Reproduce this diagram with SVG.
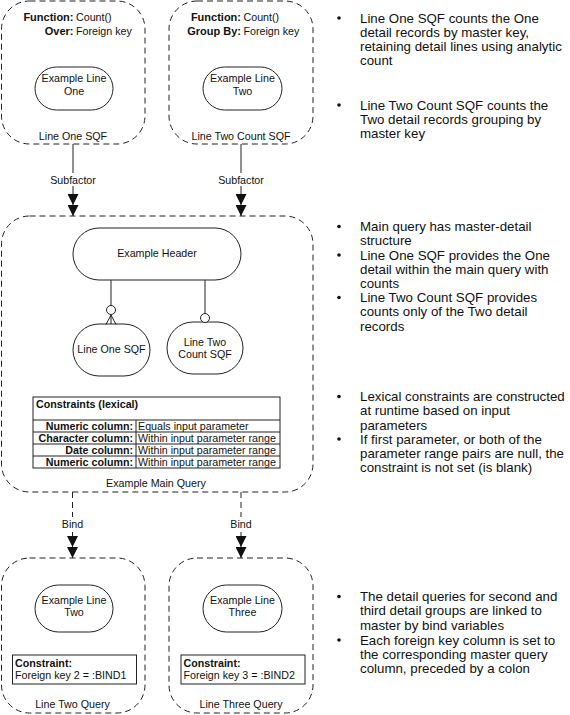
<svg xmlns="http://www.w3.org/2000/svg" width="570" height="715" viewBox="0 0 570 715">
<style>
text{font-family:"Liberation Sans",Arial,sans-serif;fill:#111;}
.t{font-size:10.7px;}
.b{font-weight:bold;}
.m{text-anchor:middle;}
.e{text-anchor:end;}
.grp{fill:#fff;stroke:#222;stroke-width:1;stroke-dasharray:6 4;}
.ent{fill:#fff;stroke:#222;stroke-width:1;}
.ln{fill:none;stroke:#222;stroke-width:1;}
.dl{fill:none;stroke:#222;stroke-width:1;stroke-dasharray:6 4;}
.bul{font-size:13.3px;}
.dot{fill:#111;}
.bg{fill:#fff;}
</style>
<defs>
<marker id="dbl" markerUnits="userSpaceOnUse" viewBox="0 0 24 12" refX="24" refY="6" markerWidth="24" markerHeight="11" orient="auto">
<path d="M0,0 L12,6 L0,12 Z M12,0 L24,6 L12,12 Z" fill="#111" stroke="none"/>
</marker>
</defs>

<g id="line-one-sqf">
<rect class="grp" x="1.5" y="1" width="143.5" height="143" rx="28"/>
<text class="t b e" x="73.5" y="20.5" style="font-size:11px">Function:</text>
<text class="t" x="76" y="20.5">Count()</text>
<text class="t b e" x="73.5" y="34.5" style="font-size:11px">Over:</text>
<text class="t" x="76" y="34.5">Foreign key</text>
<rect class="ent" x="35" y="67" width="78" height="43" rx="21.5"/>
<text class="t m" x="74" y="82">Example Line</text>
<text class="t m" x="74" y="94.5">One</text>
<text class="t m" x="73" y="139.5">Line One SQF</text>
</g>

<g id="line-two-count-sqf">
<rect class="grp" x="169" y="1" width="144" height="143" rx="28"/>
<text class="t b e" x="241" y="20.5" style="font-size:11px">Function:</text>
<text class="t" x="243.5" y="20.5">Count()</text>
<text class="t b e" x="241" y="34.5" style="font-size:11px">Group By:</text>
<text class="t" x="243.5" y="34.5">Foreign key</text>
<rect class="ent" x="203" y="67" width="79" height="43" rx="21.5"/>
<text class="t m" x="242.5" y="82">Example Line</text>
<text class="t m" x="242.5" y="94.5">Two</text>
<text class="t m" x="241" y="139.5">Line Two Count SQF</text>
</g>

<g id="example-main-query">
<rect class="grp" x="1.5" y="216" width="311.5" height="276" rx="28"/>
<rect class="ent" x="73" y="228" width="168" height="52" rx="26"/>
<text class="t m" x="157" y="257">Example Header</text>
<g id="line-one-sqf-ref">
<rect class="ent" x="73" y="324" width="77" height="52" rx="26"/>
<text class="t m" x="111.5" y="353">Line One SQF</text>
</g>
<g id="line-two-count-sqf-ref">
<rect class="ent" x="167" y="322" width="76" height="52" rx="26"/>
<text class="t m" x="205" y="345.5">Line Two</text>
<text class="t m" x="205" y="358">Count SQF</text>
</g>
<g id="constraints-table">
<rect class="ent" x="33" y="397" width="247" height="71"/>
<line class="ln" x1="33" y1="420" x2="280" y2="420"/>
<line class="ln" x1="33" y1="432" x2="280" y2="432"/>
<line class="ln" x1="33" y1="444" x2="280" y2="444"/>
<line class="ln" x1="33" y1="456" x2="280" y2="456"/>
<line class="ln" x1="136" y1="420" x2="136" y2="468"/>
<text class="t b" x="36" y="408">Constraints (lexical)</text>
<text class="t b e" x="133" y="429.8">Numeric column:</text>
<text class="t" x="138" y="429.8">Equals input parameter</text>
<text class="t b e" x="133" y="441.8">Character column:</text>
<text class="t" x="138" y="441.8">Within input parameter range</text>
<text class="t b e" x="133" y="453.8">Date column:</text>
<text class="t" x="138" y="453.8">Within input parameter range</text>
<text class="t b e" x="133" y="465.8">Numeric column:</text>
<text class="t" x="138" y="465.8">Within input parameter range</text>
</g>
<text class="t m" x="156" y="486.5">Example Main Query</text>
</g>

<g id="line-two-query">
<rect class="grp" x="1.5" y="558" width="143.5" height="155" rx="28"/>
<rect class="ent" x="35" y="585" width="78" height="47" rx="23.5"/>
<text class="t m" x="74" y="604">Example Line</text>
<text class="t m" x="74" y="616">Two</text>
<rect class="ent" x="12.5" y="655" width="124" height="29"/>
<text class="t b" x="15" y="666.5">Constraint:</text>
<text class="t" x="15" y="679">Foreign key 2 = :BIND1</text>
<text class="t m" x="72.5" y="708">Line Two Query</text>
</g>

<g id="line-three-query">
<rect class="grp" x="169" y="558" width="144" height="155" rx="28"/>
<rect class="ent" x="203" y="585" width="79" height="47" rx="23.5"/>
<text class="t m" x="242.5" y="604">Example Line</text>
<text class="t m" x="242.5" y="616">Three</text>
<rect class="ent" x="181" y="655" width="124" height="29"/>
<text class="t b" x="183.5" y="666.5">Constraint:</text>
<text class="t" x="183.5" y="679">Foreign key 3 = :BIND2</text>
<text class="t m" x="241" y="708">Line Three Query</text>
</g>

<g id="connectors">
<line class="ln" x1="73" y1="144" x2="73" y2="216" marker-end="url(#dbl)"/>
<rect class="bg" x="48" y="173" width="50" height="13"/>
<text class="t m" x="73" y="184">Subfactor</text>
<line class="ln" x1="241" y1="144" x2="241" y2="216" marker-end="url(#dbl)"/>
<rect class="bg" x="216" y="173" width="50" height="13"/>
<text class="t m" x="241" y="184">Subfactor</text>

<line class="dl" x1="72.5" y1="492" x2="72.5" y2="558" marker-end="url(#dbl)"/>
<rect class="bg" x="58" y="517" width="29" height="13"/>
<text class="t m" x="72.5" y="528">Bind</text>
<line class="dl" x1="241" y1="492" x2="241" y2="558" marker-end="url(#dbl)"/>
<rect class="bg" x="227" y="517" width="29" height="13"/>
<text class="t m" x="241" y="528">Bind</text>

<line class="ln" x1="111" y1="280" x2="111" y2="305.5"/>
<circle class="ent" cx="111" cy="310" r="4.5"/>
<path class="ln" d="M111,315 L106,324.5 M111,315 L111,324 M111,315 L116,324.5"/>
<line class="ln" x1="205" y1="280" x2="205" y2="313.5"/>
<circle class="ent" cx="205" cy="318" r="4.5"/>
</g>

<g id="notes">
<circle class="dot" cx="339" cy="18" r="1.8"/>
<text class="bul" x="360" y="22.5">Line One SQF counts the One<tspan x="360" dy="14.3">detail records by master key,</tspan><tspan x="360" dy="14.3">retaining detail lines using analytic</tspan><tspan x="360" dy="14.3">count</tspan></text>
<circle class="dot" cx="339" cy="105" r="1.8"/>
<text class="bul" x="360" y="109.5">Line Two Count SQF counts the<tspan x="360" dy="14.3">Two detail records grouping by</tspan><tspan x="360" dy="14.3">master key</tspan></text>
<circle class="dot" cx="339" cy="226.5" r="1.8"/>
<text class="bul" x="360" y="231">Main query has master-detail<tspan x="360" dy="14.3">structure</tspan></text>
<circle class="dot" cx="339" cy="255" r="1.8"/>
<text class="bul" x="360" y="259.5">Line One SQF provides the One<tspan x="360" dy="14.3">detail within the main query with</tspan><tspan x="360" dy="14.3">counts</tspan></text>
<circle class="dot" cx="339" cy="297.5" r="1.8"/>
<text class="bul" x="360" y="302">Line Two Count SQF provides<tspan x="360" dy="14.3">counts only of the Two detail</tspan><tspan x="360" dy="14.3">records</tspan></text>
<circle class="dot" cx="339" cy="396.5" r="1.8"/>
<text class="bul" x="360" y="401">Lexical constraints are constructed<tspan x="360" dy="14.3">at runtime based on input</tspan><tspan x="360" dy="14.3">parameters</tspan></text>
<circle class="dot" cx="339" cy="439" r="1.8"/>
<text class="bul" x="360" y="443.5">If first parameter, or both of the<tspan x="360" dy="14.3">parameter range pairs are null, the</tspan><tspan x="360" dy="14.3">constraint is not set (is blank)</tspan></text>
<circle class="dot" cx="339" cy="596.5" r="1.8"/>
<text class="bul" x="360" y="601">The detail queries for second and<tspan x="360" dy="14.3">third detail groups are linked to</tspan><tspan x="360" dy="14.3">master by bind variables</tspan></text>
<circle class="dot" cx="339" cy="640" r="1.8"/>
<text class="bul" x="360" y="644.5">Each foreign key column is set to<tspan x="360" dy="14.3">the corresponding master query</tspan><tspan x="360" dy="14.3">column, preceded by a colon</tspan></text>
</g>
</svg>
